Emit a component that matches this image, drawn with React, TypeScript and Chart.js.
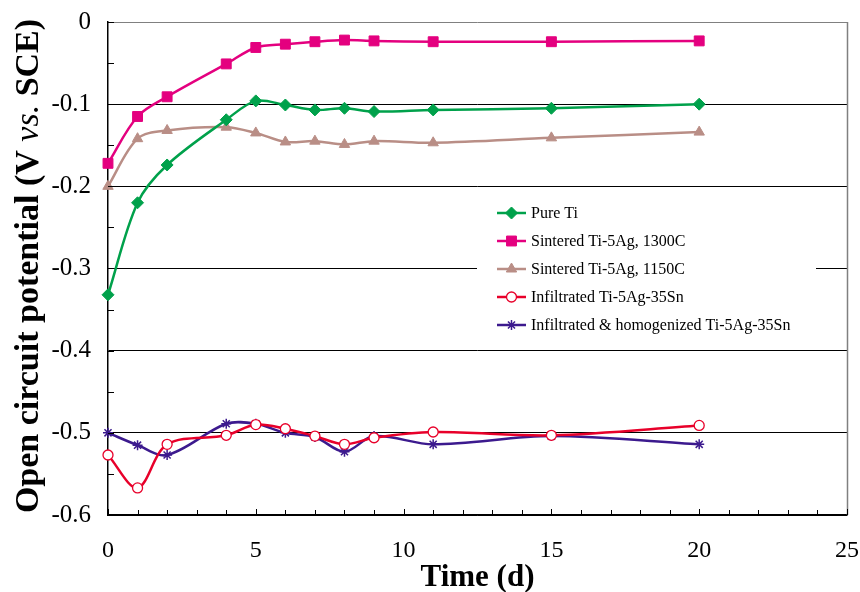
import React, { useEffect, useRef } from 'react';
import { Chart, registerables } from 'chart.js';
import { drawPoint } from 'chart.js/helpers';

Chart.register(...registerables);

// ---------- data ----------
const days = [0, 1, 2, 4, 5, 6, 7, 8, 9, 11, 15, 20];
const pureTi = [-0.332, -0.220, -0.174, -0.119, -0.096, -0.101, -0.107, -0.105, -0.109, -0.107, -0.105, -0.100];
const sintered1300 = [-0.172, -0.115, -0.091, -0.051, -0.031, -0.027, -0.024, -0.022, -0.023, -0.024, -0.024, -0.023];
const sintered1150 = [-0.200, -0.142, -0.132, -0.128, -0.135, -0.146, -0.145, -0.149, -0.145, -0.147, -0.141, -0.134];
const infiltrated = [-0.527, -0.567, -0.514, -0.503, -0.490, -0.495, -0.504, -0.514, -0.506, -0.499, -0.503, -0.491];
const infHomog = [-0.500, -0.515, -0.527, -0.489, -0.489, -0.500, -0.505, -0.523, -0.504, -0.514, -0.504, -0.514];

const seriesNames = [
  'Pure Ti',
  'Sintered Ti-5Ag, 1300C',
  'Sintered Ti-5Ag, 1150C',
  'Infiltrated Ti-5Ag-35Sn',
  'Infiltrated & homogenized Ti-5Ag-35Sn',
];
const xTitle = 'Time (d)';
const yTitleParts = [
  { text: 'Open circuit potential (V ', style: 'bold' },
  { text: 'vs.', style: 'italic' },
  { text: ' SCE)', style: 'bold' },
];

const FONT = '"Liberation Serif", "Times New Roman", Times, serif';

const GREEN = '#00A14B';
const PINK = '#E4007F';
const TAN = '#B98E86';
const RED = '#E8002A';
const PURPLE = '#3C1A8E';

const toPts = (ys: number[]) => days.map((d, i) => ({ x: d, y: ys[i] }));

const decorPlugin = {
  id: 'decor',
  afterDraw(chart: any) {
    const { ctx, chartArea: ca, scales } = chart;
    const xs = scales.x;
    const ys = scales.y;
    ctx.save();
    // right border
    ctx.strokeStyle = '#808080';
    ctx.lineWidth = 1.5;
    ctx.beginPath();
    ctx.moveTo(Math.round(ca.right) + 0.5, ca.top);
    ctx.lineTo(Math.round(ca.right) + 0.5, ca.bottom);
    ctx.stroke();

    // tick marks (inside)
    ctx.strokeStyle = '#000';
    ctx.lineWidth = 1;
    ctx.beginPath();
    for (let v = xs.min; v <= xs.max; v += 1) {
      const px = Math.round(xs.getPixelForValue(v)) + 0.5;
      const len = v % 5 === 0 ? 6 : 5;
      ctx.moveTo(px, ca.bottom);
      ctx.lineTo(px, ca.bottom - len);
    }
    for (let i = 0; i <= 12; i++) {
      const v = ys.min + i * 0.05;
      const py = Math.round(ys.getPixelForValue(v)) + 0.5;
      ctx.moveTo(ca.left, py);
      ctx.lineTo(ca.left + 6, py);
    }
    ctx.stroke();

    // x title
    ctx.fillStyle = '#000';
    ctx.font = `bold 31px ${FONT}`;
    ctx.textAlign = 'center';
    ctx.textBaseline = 'alphabetic';
    ctx.fillText(xTitle, (ca.left + ca.right) / 2, 586);

    // y title (mixed styles)
    ctx.save();
    ctx.translate(29, 266);
    ctx.rotate(-Math.PI / 2);
    ctx.textAlign = 'left';
    ctx.textBaseline = 'middle';
    const fontFor = (s: string) => (s === 'bold' ? `bold 34px ${FONT}` : `italic 34px ${FONT}`);
    let total = 0;
    const widths = yTitleParts.map((p) => {
      ctx.font = fontFor(p.style);
      const w = ctx.measureText(p.text).width;
      total += w;
      return w;
    });
    let cx = -total / 2;
    yTitleParts.forEach((p, i) => {
      ctx.font = fontFor(p.style);
      ctx.fillText(p.text, cx, 0);
      cx += widths[i];
    });
    ctx.restore();

    // legend
    ctx.fillStyle = '#fff';
    ctx.fillRect(477, 197, 339, 145);
    const rowY = [213, 241, 269, 297, 325];
    chart.data.datasets.forEach((ds: any, i: number) => {
      const y = rowY[i];
      ctx.strokeStyle = ds.borderColor;
      ctx.lineWidth = 2.5;
      ctx.beginPath();
      ctx.moveTo(497, y);
      ctx.lineTo(526, y);
      ctx.stroke();
      ctx.fillStyle = ds.pointBackgroundColor;
      ctx.strokeStyle = ds.borderColor;
      ctx.lineWidth = ds.pointBorderWidth;
      drawPoint(ctx, { pointStyle: ds.pointStyle, radius: ds.pointRadius, rotation: 0, borderWidth: ds.pointBorderWidth }, 511.5, y);
      ctx.fillStyle = '#000';
      ctx.font = `16px ${FONT}`;
      ctx.textAlign = 'left';
      ctx.textBaseline = 'middle';
      ctx.fillText(ds.label, 531, y + 1);
    });
    ctx.restore();
  },
};

export default function App() {
  const ref = useRef<HTMLCanvasElement | null>(null);
  useEffect(() => {
    if (!ref.current) return;
    const common = { borderWidth: 2.5, tension: 0.33, clip: false as any, fill: false };
    const chart = new Chart(ref.current, {
      type: 'line',
      data: {
        datasets: [
          { ...common, label: seriesNames[0], data: toPts(pureTi), borderColor: GREEN, backgroundColor: GREEN, pointBackgroundColor: GREEN, pointStyle: 'rectRot', pointRadius: 6, pointBorderWidth: 1 },
          { ...common, label: seriesNames[1], data: toPts(sintered1300), borderColor: PINK, backgroundColor: PINK, pointBackgroundColor: PINK, pointStyle: 'rect', pointRadius: 7, pointBorderWidth: 1 },
          { ...common, label: seriesNames[2], data: toPts(sintered1150), borderColor: TAN, backgroundColor: TAN, pointBackgroundColor: TAN, pointStyle: 'triangle', pointRadius: 6, pointBorderWidth: 1 },
          { ...common, label: seriesNames[3], data: toPts(infiltrated), borderColor: RED, backgroundColor: '#fff', pointBackgroundColor: '#fff', pointStyle: 'circle', pointRadius: 5, pointBorderWidth: 1.3 },
          { ...common, label: seriesNames[4], data: toPts(infHomog), borderColor: PURPLE, backgroundColor: PURPLE, pointBackgroundColor: PURPLE, pointStyle: 'star', pointRadius: 5, pointBorderWidth: 1.5 },
        ] as any,
      },
      options: {
        responsive: false,
        animation: false,
        devicePixelRatio: 1,
        layout: { padding: { top: 22, right: 13, left: 0, bottom: 0 } },
        plugins: { legend: { display: false }, tooltip: { enabled: false }, title: { display: false } },
        scales: {
          x: {
            type: 'linear',
            min: 0,
            max: 25,
            ticks: { stepSize: 5, color: '#000', font: { family: FONT, size: 24 }, padding: 21, maxRotation: 0 },
            grid: { display: false, drawTicks: false },
            border: { display: true, color: '#000', width: 1.5 },
            afterFit: (s: any) => { s.height = 77; s.paddingLeft = 0; s.paddingRight = 0; },
          },
          y: {
            type: 'linear',
            min: -0.6,
            max: 0,
            ticks: {
              stepSize: 0.1,
              color: '#000',
              font: { family: FONT, size: 25 },
              padding: 17,
              callback: (v: any) => {
                const n = Math.round(Number(v) * 10) / 10;
                return n === 0 ? '0' : String(n);
              },
            },
            grid: {
              drawTicks: false,
              lineWidth: 1,
              color: (c: any) => (c.tick && Math.abs(c.tick.value) < 1e-9 ? '#808080' : '#000'),
            },
            border: { display: true, color: '#000', width: 1.5 },
            afterFit: (s: any) => { s.width = 108; s.paddingTop = 0; s.paddingBottom = 0; },
          },
        },
      } as any,
      plugins: [decorPlugin],
    });
    return () => chart.destroy();
  }, []);
  return (
    <div style={{ position: 'absolute', left: 0, top: 0, width: 860, height: 592, background: '#fff' }}>
      <canvas ref={ref} width={860} height={592} style={{ display: 'block' }} />
    </div>
  );
}
